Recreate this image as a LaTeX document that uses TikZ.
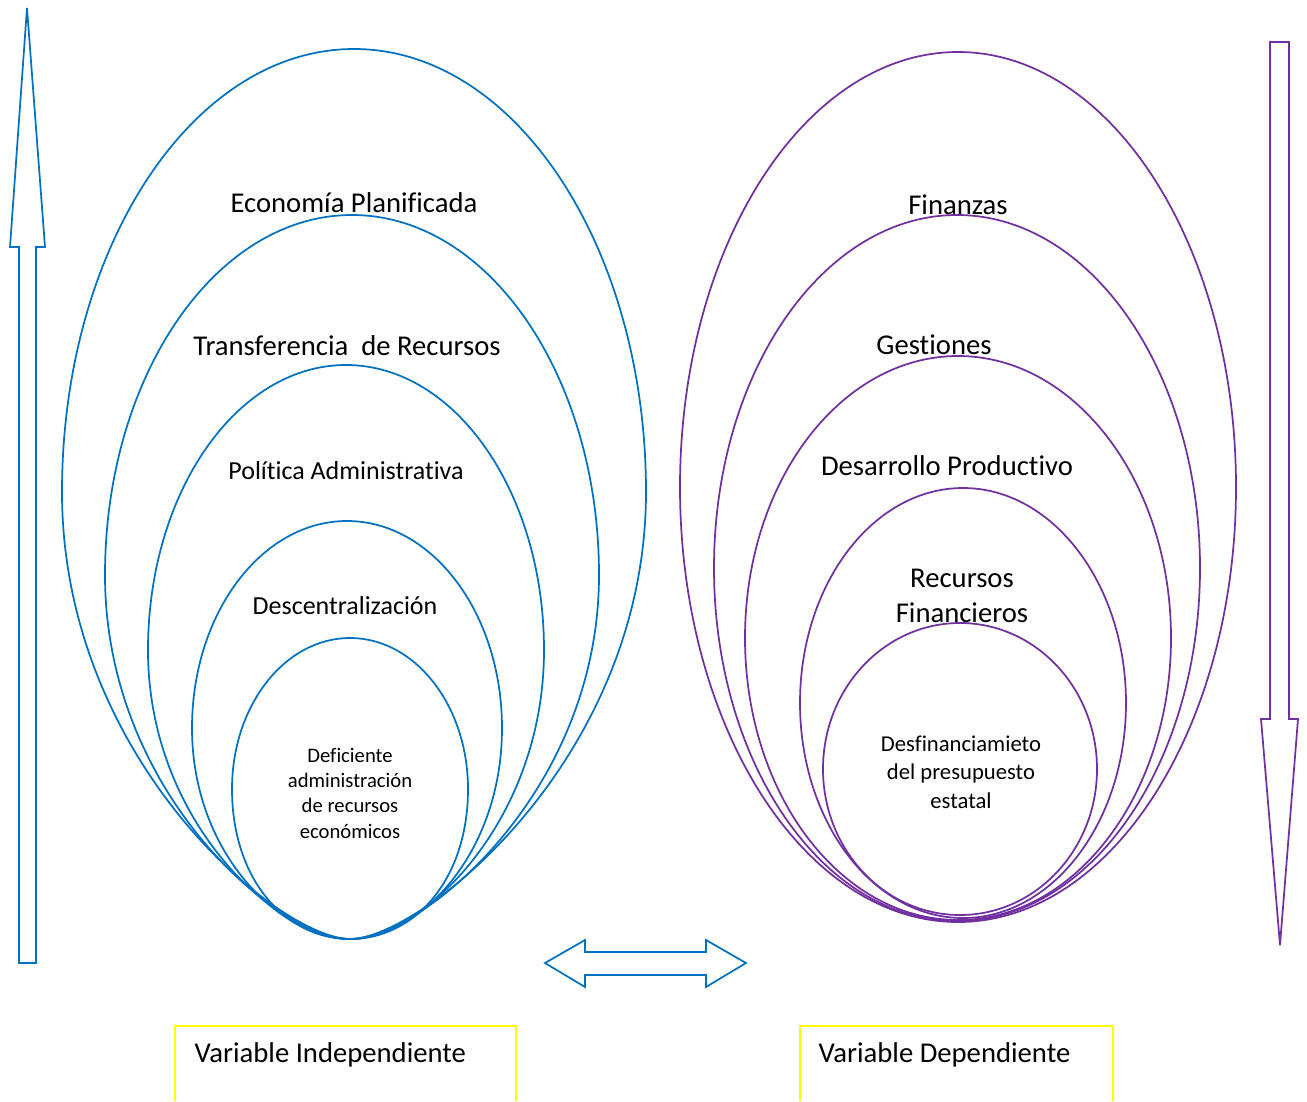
\documentclass[tikz,border=0pt]{standalone}
\usepackage{fontspec}
\setmainfont{Carlito}[Ligatures=NoCommon]
\usepackage{tikz}
\usetikzlibrary{positioning}

\definecolor{azul}{RGB}{0,112,192}
\definecolor{morado}{RGB}{112,48,160}
\definecolor{amarillo}{RGB}{255,255,0}

\tikzset{
  azulline/.style={draw=azul, line width=1.3pt},
  moradoline/.style={draw=morado, line width=1.3pt},
  biglabel/.style={font=\fontsize{21.5}{26}\selectfont},
  midlabel/.style={font=\fontsize{19.5}{24}\selectfont},
  smalllabel/.style={font=\fontsize{15.5}{19}\selectfont, align=center},
  varbox/.style={draw=amarillo, line width=1.2pt}
}

\begin{document}
\begin{tikzpicture}[x=0.75pt, y=-0.75pt]
    \useasboundingbox (0,0) rectangle (1307,1101);

    % Left nest (egg shapes sharing one bottom point)
    \coordinate (lbot) at (350,939);
    \foreach \cx/\cy/\rx/\ry/\h in {354/492/292/443/70, 352/575/247/360/70,
        346/650/198/285/70, 347/728/155/207/68, 350/789/118/151/65}
        \draw[azulline] (\cx-\rx,\cy) arc[start angle=180, end angle=360, x radius=\rx, y radius=\ry]
            .. controls (\cx+\rx,{\cy+0.6*(939-\cy)}) and (350+\h,939) .. (lbot)
            .. controls (350-\h,939) and (\cx-\rx,{\cy+0.6*(939-\cy)}) .. cycle;

    % Right nest
    \foreach \cx/\cy/\rx/\ry in {958/487/278/435, 957/568/243/353,
        958/638/213/282, 963/703/163/215, 960/769/137/146}
        \draw[moradoline] (\cx,\cy) ellipse[x radius=\rx, y radius=\ry];

    % Labels, left
    \node[biglabel] (economia) at (354,203) {Economía Planificada};
    \node[biglabel] (transfer) at (347,346) {Transferencia\ \ de Recursos};
    \node[midlabel] (politica) at (346,471) {Política Administrativa};
    \node[midlabel] (descentral) at (345,606) {Descentralización};
    \node[smalllabel] (deficiente) at (350,793) {Deficiente\\administración\\de recursos\\económicos};

    % Labels, right
    \node[biglabel] (finanzas) at (958,205) {Finanzas};
    \node[biglabel] (gestiones) at (934,345) {Gestiones};
    \node[biglabel] (desarrollo) at (947,466) {Desarrollo Productivo};
    \node[biglabel, align=center, font=\fontsize{21.5}{26}\selectfont] (recursos) at (962,596) {Recursos\\Financieros};
    \node[smalllabel, font=\fontsize{17}{21.5}\selectfont] (desfin) at (961,772) {Desfinanciamieto\\del presupuesto\\estatal};

    % Block arrows
    \draw[azulline] (27,8) -- (45,247) -- (36,247) -- (36,963) -- (19,963)
        -- (19,247) -- (10,247) -- cycle;
    \draw[moradoline] (1270,42) -- (1289,42) -- (1289,719) -- (1298,719)
        -- (1280,945) -- (1261,719) -- (1270,719) -- cycle;
    \draw[azulline] (545,963) -- (585,940) -- (585,952) -- (706,952) -- (706,940)
        -- (746,963) -- (706,987) -- (706,975) -- (585,975) -- (585,987) -- cycle;

    % Variable boxes
    \draw[varbox] (175,1101) -- (175,1026) -- (516,1026) -- (516,1101);
    \draw[varbox] (800,1101) -- (800,1026) -- (1113,1026) -- (1113,1101);
    \node[biglabel, anchor=west] (indep) at (190,1055) {Variable Independiente};
    \node[biglabel, anchor=west] (dep) at (814,1055) {Variable Dependiente};
\end{tikzpicture}
\end{document}
